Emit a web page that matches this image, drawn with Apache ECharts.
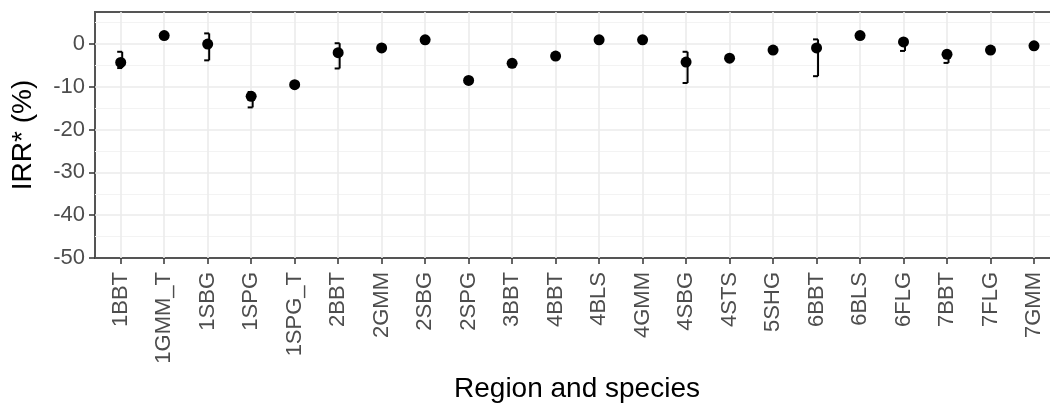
<!DOCTYPE html>
<html>
<head>
<meta charset="utf-8">
<script src="https://cdn.jsdelivr.net/npm/echarts@6/dist/echarts.min.js"></script>
<style>
  html, body { margin: 0; padding: 0; background: #fff; }
  #chart { width: 1050px; height: 408px; }
</style>
</head>
<body>
<div id="chart"></div>
<script>
// Region / species codes along the x axis
const categories = ['1BBT', '1GMM_T', '1SBG', '1SPG', '1SPG_T', '2BBT', '2GMM', '2SBG', '2SPG', '3BBT', '4BBT',
  '4BLS', '4GMM', '4SBG', '4STS', '5SHG', '6BBT', '6BLS', '6FLG', '7BBT', '7FLG', '7GMM'];
// Point estimates of IRR* (%)
const irr = [-4.3, 2.0, 0.0, -12.2, -9.5, -2.0, -0.9, 1.0, -8.5, -4.5, -2.8,
  1.0, 1.0, -4.2, -3.3, -1.4, -0.9, 2.0, 0.5, -2.4, -1.4, -0.4];
// Interval bounds (null where the interval is hidden behind the point)
const ciLow = [-5.6, null, -3.8, -14.8, null, -5.7, null, null, null, null, null,
  null, null, -9.1, null, null, -7.5, null, -1.6, -4.4, null, null];
const ciHigh = [-1.8, null, 2.5, -11.2, null, 0.2, null, null, null, null, null,
  null, null, -1.8, null, null, 1.1, null, 1.0, -1.6, null, null];

const yMin = -50, yMax = 7.5, yStep = 10;

const FONT = '"Liberation Sans", Arial, sans-serif';
const TEXT_GREY = '#4d4d4d';
const GRID_MAJOR = '#ebebeb';
const GRID_MINOR = '#f3f3f3';

const errData = [];
categories.forEach((c, i) => {
  if (ciLow[i] != null && ciHigh[i] != null) errData.push([i, ciLow[i], ciHigh[i]]);
});

const chart = echarts.init(document.getElementById('chart'), null, { renderer: 'canvas' });

chart.setOption({
  animation: false,
  backgroundColor: '#fff',
  textStyle: { fontFamily: FONT },
  grid: [
    // panel frame with horizontal guides and the y scale (runs past the right edge)
    { left: 95, top: 12, width: 964, height: 246, show: true, borderColor: '#555', borderWidth: 2,
      backgroundColor: '#fff', outerBoundsMode: 'none', containLabel: false },
    // plotting area spanning the first to the last category
    { left: 120.7, top: 12, width: 913.3, height: 246, outerBoundsMode: 'none', containLabel: false }
  ],
  xAxis: [
    {
      gridIndex: 0, type: 'value', min: 0, max: 1,
      axisLine: { show: false }, axisTick: { show: false }, axisLabel: { show: false }, splitLine: { show: false },
      name: 'Region and species', nameLocation: 'middle', nameGap: 117,
      nameTextStyle: { fontSize: 28, color: '#000', fontFamily: FONT }
    },
    {
      gridIndex: 1, type: 'category', data: categories, boundaryGap: false, position: 'bottom',
      axisLine: { show: false, onZero: false },
      axisTick: { show: true, length: 6, lineStyle: { color: '#333', width: 1.5 } },
      axisLabel: { rotate: 90, fontSize: 22, color: TEXT_GREY, margin: 14, fontFamily: FONT, interval: 0 },
      splitLine: { show: true, lineStyle: { color: GRID_MAJOR, width: 1.6 } }
    }
  ],
  yAxis: [
    {
      gridIndex: 0, type: 'value', min: yMin, max: yMax, interval: yStep,
      axisLine: { show: false },
      axisTick: { show: true, length: 6, lineStyle: { color: '#333', width: 1.5 } },
      axisLabel: { fontSize: 22, color: TEXT_GREY, margin: 10, fontFamily: FONT, showMaxLabel: false },
      splitLine: { show: true, showMaxLine: false, showMinLine: false, lineStyle: { color: GRID_MAJOR, width: 1.6 } },
      minorTick: { show: false, splitNumber: 2 },
      minorSplitLine: { show: true, lineStyle: { color: GRID_MINOR, width: 1 } },
      name: 'IRR* (%)', nameLocation: 'middle', nameGap: 58,
      nameTextStyle: { fontSize: 28, color: '#000', fontFamily: FONT }
    },
    {
      gridIndex: 1, type: 'value', min: yMin, max: yMax, interval: yStep, show: false,
      splitLine: { show: false }
    }
  ],
  series: [
    {
      type: 'custom', xAxisIndex: 1, yAxisIndex: 1, data: errData, z: 3,
      renderItem: function (params, api) {
        const top = api.coord([api.value(0), api.value(2)]);
        const bot = api.coord([api.value(0), api.value(1)]);
        const cx = top[0] + 1.5;
        const st = { stroke: '#000', lineWidth: 2 };
        return {
          type: 'group',
          children: [
            { type: 'line', shape: { x1: cx, y1: top[1], x2: cx, y2: bot[1] }, style: st },
            { type: 'line', shape: { x1: cx - 5, y1: top[1], x2: cx, y2: top[1] }, style: st },
            { type: 'line', shape: { x1: cx - 5, y1: bot[1], x2: cx, y2: bot[1] }, style: st }
          ]
        };
      }
    },
    {
      type: 'scatter', xAxisIndex: 1, yAxisIndex: 1, data: irr, z: 4,
      symbol: 'circle', symbolSize: 11,
      itemStyle: { color: '#000', opacity: 1 }
    }
  ]
});
</script>
</body>
</html>
